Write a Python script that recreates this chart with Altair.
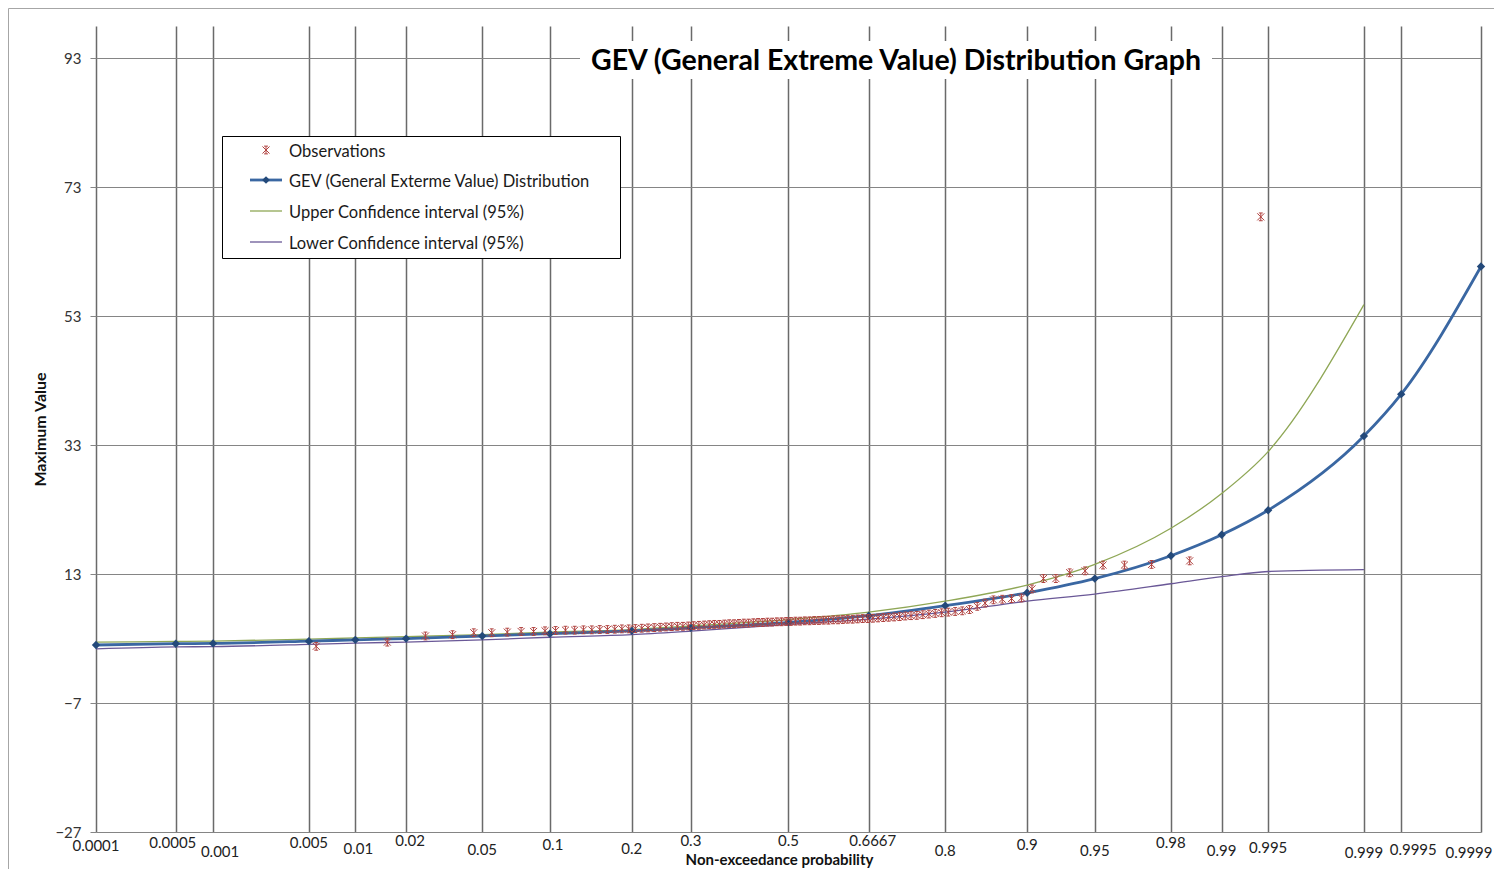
import altair as alt
import pandas as pd
from statistics import NormalDist

# ---------------- data ----------------
tick_probs = [0.0001, 0.0005, 0.001, 0.005, 0.01, 0.02, 0.05, 0.1, 0.2, 0.3, 0.5,
              0.6667, 0.8, 0.9, 0.95, 0.98, 0.99, 0.995, 0.999, 0.9995, 0.9999]
tick_labels = ["0.0001", "0.0005", "0.001", "0.005", "0.01", "0.02", "0.05", "0.1",
               "0.2", "0.3", "0.5", "0.6667", "0.8", "0.9", "0.95", "0.98", "0.99",
               "0.995", "0.999", "0.9995", "0.9999"]

gev_values = [2.0, 2.2, 2.25, 2.6, 2.8, 3.0, 3.4, 3.75, 4.2, 4.65, 5.5,
              6.55, 8.1, 10.1, 12.3, 15.85, 19.1, 22.9, 34.4, 40.9, 60.7]

ci_probs = [0.0001, 0.0005, 0.001, 0.005, 0.01, 0.02, 0.05, 0.1, 0.2, 0.3, 0.5,
            0.6667, 0.8, 0.9, 0.95, 0.98, 0.99, 0.995, 0.999]
upper_values = [2.45, 2.55, 2.6, 2.9, 3.1, 3.3, 3.6, 4.0, 4.4, 4.95, 5.95,
                7.1, 8.8, 11.3, 14.5, 20.1, 25.5, 32.0, 54.8]
lower_values = [1.4, 1.7, 1.75, 2.1, 2.3, 2.45, 2.8, 3.2, 3.6, 4.15, 5.2,
                6.0, 7.1, 8.8, 9.9, 11.5, 12.6, 13.4, 13.7]

obs_probs = [0.0056, 0.0156, 0.0256, 0.0356, 0.0455, 0.0555, 0.0655, 0.0755, 0.0855, 0.0955,
             0.1055, 0.1155, 0.1254, 0.1354, 0.1454, 0.1554, 0.1654, 0.1754, 0.1854, 0.1954,
             0.2054, 0.2153, 0.2253, 0.2353, 0.2453, 0.2553, 0.2653, 0.2753, 0.2853, 0.2952,
             0.3052, 0.3152, 0.3252, 0.3352, 0.3452, 0.3552, 0.3652, 0.3751, 0.3851, 0.3951,
             0.4051, 0.4151, 0.4251, 0.4351, 0.4451, 0.4551, 0.4650, 0.4750, 0.4850, 0.4950,
             0.5050, 0.5150, 0.5250, 0.5349, 0.5449, 0.5549, 0.5649, 0.5749, 0.5849, 0.5949,
             0.6049, 0.6148, 0.6248, 0.6348, 0.6448, 0.6548, 0.6648, 0.6748, 0.6848, 0.6947,
             0.7047, 0.7147, 0.7247, 0.7347, 0.7447, 0.7547, 0.7647, 0.7746, 0.7846, 0.7946,
             0.8046, 0.8146, 0.8246, 0.8346, 0.8446, 0.8545, 0.8645, 0.8745, 0.8845, 0.8945,
             0.9045, 0.9145, 0.9245, 0.9345, 0.9444, 0.9544, 0.9644, 0.9744, 0.9844, 0.9944]
obs_values = [1.8, 2.45, 3.4, 3.6, 3.9, 3.9, 4.0, 4.1, 4.1, 4.2,
              4.25, 4.3, 4.3, 4.35, 4.35, 4.4, 4.4, 4.45, 4.5, 4.5,
              4.55, 4.6, 4.65, 4.7, 4.75, 4.8, 4.85, 4.9, 4.9, 4.95,
              5.0, 5.05, 5.1, 5.15, 5.2, 5.2, 5.25, 5.3, 5.3, 5.35,
              5.4, 5.4, 5.45, 5.5, 5.5, 5.55, 5.55, 5.6, 5.6, 5.65,
              5.65, 5.7, 5.7, 5.75, 5.75, 5.8, 5.8, 5.85, 5.85, 5.9,
              5.9, 5.95, 6.0, 6.0, 6.05, 6.1, 6.1, 6.15, 6.2, 6.25,
              6.3, 6.35, 6.4, 6.5, 6.55, 6.6, 6.7, 6.8, 6.9, 7.0,
              7.1, 7.2, 7.3, 7.5, 8.0, 8.5, 9.0, 9.1, 9.2, 9.3,
              10.7, 12.3, 12.3, 13.2, 13.5, 14.4, 14.4, 14.5, 15.05, 68.4]

y_ticks = [-27, -7, 13, 33, 53, 73, 93]

legend_labels = ["Observations", "GEV (General Exterme Value) Distribution",
                 "Upper Confidence interval (95%)", "Lower Confidence interval (95%)"]
chart_title = "GEV (General Extreme Value) Distribution Graph"

# ---------------- styling ----------------
W, H = 1385, 806
FONT = "Lato"
C_OBS = "#b0413e"
C_GEV = "#3a67a2"
C_DIAM = "#23497a"
C_UP = "#8fa756"
C_LO = "#6a5897"
ASTERISK = ("M-1,-1L1,1M-1,1L1,-1M0,-1.1L0,1.1"
            "M-0.55,-1.1L0.55,-1.1M-0.55,1.1L0.55,1.1")

ND = NormalDist()
tick_z = [ND.inv_cdf(p) for p in tick_probs]
zmin, zmax = tick_z[0], tick_z[-1]

# per-label vertical stagger and horizontal nudge (pixels), as in the original
label_dy = {"0.0001": 5, "0.0005": 2, "0.001": 11, "0.005": 2, "0.01": 8, "0.02": 0,
            "0.05": 9, "0.1": 4, "0.2": 8, "0.3": 0, "0.5": 0, "0.6667": 0, "0.8": 10,
            "0.9": 4, "0.95": 10, "0.98": 2, "0.99": 10, "0.995": 7, "0.999": 12,
            "0.9995": 9, "0.9999": 12}
label_dx = {"0.001": 7, "0.9995": 12, "0.6667": 4, "0.02": 4, "0.01": 3, "0.1": 3,
            "0.0005": -3, "0.9999": -12}

xscale = alt.Scale(domain=[zmin, zmax], nice=False, zero=False)
yscale = alt.Scale(domain=[-27, 98], nice=False, zero=False)

x_axis = alt.Axis(values=tick_z, grid=True, gridColor="#6a6a6a", gridWidth=1.5,
                  domain=False, ticks=False, labels=False,
                  title="Non-exceedance probability", titleFont=FONT, titleFontSize=15,
                  titleFontWeight="bold", titleColor="#111111", titleX=683, titleY=20,
                  titleBaseline="top", titleAlign="center")
y_axis = alt.Axis(values=y_ticks, grid=True, gridColor="#858585", gridWidth=1,
                  domain=False, ticks=True, tickSize=6, tickColor="#858585",
                  labelFont=FONT, labelFontSize=15, labelColor="#333333",
                  labelPadding=9, title="Maximum Value", titleFont=FONT,
                  titleFontSize=16, titleFontWeight="bold", titleColor="#111111",
                  titlePadding=6)

X = alt.X("z:Q", scale=xscale, axis=x_axis)
Y = alt.Y("v:Q", scale=yscale, axis=y_axis)

ci_up = pd.DataFrame({"p": ci_probs, "v": upper_values})
ci_lo = pd.DataFrame({"p": ci_probs, "v": lower_values})
gev = pd.DataFrame({"p": tick_probs, "v": gev_values})
obs = pd.DataFrame({"p": obs_probs, "v": obs_values})
ticks_df = pd.DataFrame({"p": tick_probs, "label": tick_labels})

zcalc = {"z": "quantileNormal(datum.p)"}

upper = alt.Chart(ci_up).transform_calculate(**zcalc).mark_line(
    color=C_UP, strokeWidth=1.3, interpolate="monotone").encode(x=X, y=Y)
lower = alt.Chart(ci_lo).transform_calculate(**zcalc).mark_line(
    color=C_LO, strokeWidth=1.3, interpolate="monotone").encode(x=X, y=Y)
gev_line = alt.Chart(gev).transform_calculate(**zcalc).mark_line(
    color=C_GEV, strokeWidth=2.8, interpolate="monotone").encode(x=X, y=Y)
gev_pts = alt.Chart(gev).transform_calculate(**zcalc).mark_point(
    shape="diamond", filled=True, color=C_DIAM, size=70, opacity=1).encode(x=X, y=Y)
obs_pts = alt.Chart(obs).transform_calculate(**zcalc).mark_point(
    shape=ASTERISK, filled=False, color=C_OBS, size=50, strokeWidth=1,
    opacity=1).encode(x=X, y=Y)

# x tick labels (staggered like the original)
xlabel_layers = []
for lab in tick_labels:
    xlabel_layers.append(
        alt.Chart(ticks_df).transform_filter(alt.datum.label == lab)
        .transform_calculate(**zcalc)
        .mark_text(font=FONT, fontSize=15, color="#222222", align="center",
                   baseline="top", dx=label_dx.get(lab, 0), dy=label_dy[lab])
        .encode(x=X, y=alt.value(H + 2), text="label:N")
    )

one = pd.DataFrame({"k": [0]})

frame = alt.Chart(one).mark_rect(fill="white", fillOpacity=0, stroke="#a6a6a6",
                                 strokeWidth=1).encode(
    x=alt.value(-87.5), x2=alt.value(1430), y=alt.value(-17.5), y2=alt.value(900))

title_bg = alt.Chart(one).mark_rect(fill="white").encode(
    x=alt.value(484), x2=alt.value(1116), y=alt.value(15), y2=alt.value(53))
title_txt = alt.Chart(one).mark_text(
    text=chart_title, font=FONT, fontSize=28.5, fontWeight="bold", color="#000000",
    align="center", baseline="middle").encode(x=alt.value(800), y=alt.value(35))

leg_box = alt.Chart(one).mark_rect(fill="white", stroke="#000000", strokeWidth=1).encode(
    x=alt.value(126.5), x2=alt.value(524.5), y=alt.value(110.5), y2=alt.value(232.5))

leg_rows = [124, 154, 185, 216]
leg_layers = []
leg_layers.append(alt.Chart(one).mark_point(
    shape=ASTERISK, filled=False, color=C_OBS, size=50, strokeWidth=1, opacity=1).encode(
    x=alt.value(170), y=alt.value(leg_rows[0])))
leg_layers.append(alt.Chart(one).mark_rule(color=C_GEV, strokeWidth=2.8).encode(
    x=alt.value(154), x2=alt.value(186), y=alt.value(leg_rows[1])))
leg_layers.append(alt.Chart(one).mark_point(
    shape="diamond", filled=True, color=C_DIAM, size=60, opacity=1).encode(
    x=alt.value(170), y=alt.value(leg_rows[1])))
leg_layers.append(alt.Chart(one).mark_rule(color=C_UP, strokeWidth=1.3).encode(
    x=alt.value(154), x2=alt.value(186), y=alt.value(leg_rows[2])))
leg_layers.append(alt.Chart(one).mark_rule(color=C_LO, strokeWidth=1.3).encode(
    x=alt.value(154), x2=alt.value(186), y=alt.value(leg_rows[3])))
for lab, yy in zip(legend_labels, leg_rows):
    leg_layers.append(alt.Chart(one).mark_text(
        text=lab, font=FONT, fontSize=16.5, color="#1a1a1a", align="left",
        baseline="middle").encode(x=alt.value(193), y=alt.value(yy + 2)))

chart = alt.layer(
    upper, lower, gev_line, gev_pts, obs_pts, *xlabel_layers,
    title_bg, title_txt, leg_box, *leg_layers, frame
).properties(
    width=W, height=H,
    autosize=alt.AutoSizeParams(type="none"),
    padding={"left": 88, "top": 18, "right": 13, "bottom": 37},
    background="white",
).configure_view(stroke=None)

chart.save("out.html", embed_options={"renderer": "svg", "actions": False})
